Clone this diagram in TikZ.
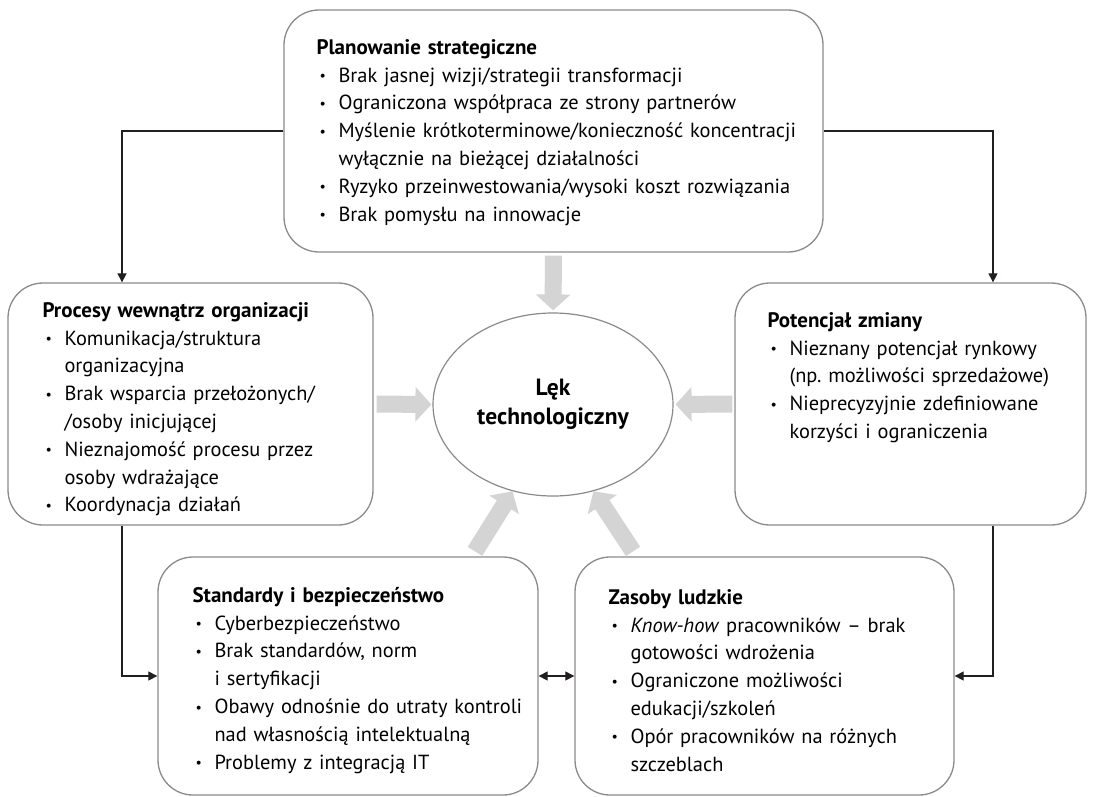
\documentclass[tikz,border=0pt]{standalone}
\usepackage{fontspec}
\setmainfont{PT Sans}
\usepackage{tikz}
\usetikzlibrary{arrows.meta,calc,positioning,shapes.geometric}
\definecolor{BoxGray}{RGB}{138,138,138}
\definecolor{ArrowGray}{RGB}{212,212,212}
\definecolor{LinkBlack}{RGB}{35,31,32}
\newcommand{\pkt}[1]{\par\hangindent=22pt\hangafter=1\noindent\hbox to 22pt{\hspace{3pt}{\fontsize{14}{14}\selectfont\raisebox{1.5pt}{\textbullet}}\hfil}#1\par}
\newcommand{\tyt}[1]{\noindent{\fontsize{21}{27.8}\selectfont\bfseries #1}\par}

\begin{document}
\begin{tikzpicture}[x=1pt,y=-1pt,
  box/.style={draw=BoxGray,line width=1.3pt,rounded corners=35pt,inner sep=0pt},
  txt/.style={anchor=base west,inner sep=0pt,text width=520pt,align=left,font=\fontsize{20.4}{27.8}\selectfont},
  link/.style={LinkBlack,line width=1.1pt,-{Triangle[length=9pt,width=9pt]}},
  bigarrow/.style={ArrowGray,line width=17pt,-{Triangle[length=16pt,width=34pt]}}]
\useasboundingbox (0,0) rectangle (1093,796);
% ramki
\node[box,minimum width=539pt,minimum height=242pt] (plan) at (553.5,131) {};
\node[box,minimum width=365pt,minimum height=242pt] (proc) at (190.5,404) {};
\node[box,minimum width=351pt,minimum height=242pt] (pot) at (910.5,404) {};
\node[box,minimum width=380pt,minimum height=238pt] (std) at (348,676) {};
\node[box,minimum width=379pt,minimum height=238pt] (zas) at (764.5,676) {};
\node[ellipse,draw=BoxGray,line width=1.2pt,minimum width=240pt,minimum height=183pt,inner sep=0pt,align=center,font=\fontsize{23.5}{28.5}\selectfont\bfseries] (lek) at (553,404.5) {Lęk\\technologiczny};
% teksty
\node[txt] (plan-t) at ($(plan.north west)+(33,45)$) {\tyt{Planowanie strategiczne}
\pkt{Brak jasnej wizji/strategii transformacji}
\pkt{Ograniczona współpraca ze strony partnerów}
\pkt{Myślenie krótkoterminowe/konieczność koncentracji\newline wyłącznie na bieżącej działalności}
\pkt{Ryzyko przeinwestowania/wysoki koszt rozwiązania}
\pkt{Brak pomysłu na innowacje}};
\node[txt] (proc-t) at ($(proc.north west)+(35,35)$) {\tyt{Procesy wewnątrz organizacji}
\pkt{Komunikacja/struktura\newline organizacyjna}
\pkt{Brak wsparcia przełożonych/\newline /osoby inicjującej}
\pkt{Nieznajomość procesu przez\newline osoby wdrażające}
\pkt{Koordynacja działań}};
\node[txt] (pot-t) at ($(pot.north west)+(33,45)$) {\tyt{Potencjał zmiany}
\pkt{Nieznany potencjał rynkowy\newline (np.\ możliwości sprzedażowe)}
\pkt{Nieprecyzyjnie zdefiniowane\newline korzyści i ograniczenia}};
\node[txt] (std-t) at ($(std.north west)+(35,46)$) {\tyt{Standardy i bezpieczeństwo}
\pkt{Cyberbezpieczeństwo}
\pkt{Brak standardów, norm\newline i sertyfikacji}
\pkt{Obawy odnośnie do utraty kontroli\newline nad własnością intelektualną}
\pkt{Problemy z integracją IT}};
\node[txt] (zas-t) at ($(zas.north west)+(34,48)$) {\tyt{Zasoby ludzkie}
\pkt{\textit{Know-how} pracowników – brak\newline gotowości wdrożenia}
\pkt{Ograniczone możliwości\newline edukacji/szkoleń}
\pkt{Opór pracowników na różnych\newline szczeblach}};
% strzalki szare
\draw[bigarrow,shorten <=3pt,shorten >=2pt] (plan.south) -- (lek.north);
\draw[bigarrow,shorten <=3pt,shorten >=1pt] (proc.east) -- (lek.west);
\draw[bigarrow,shorten <=2pt,shorten >=2pt] (pot.west) -- (lek.east);
\draw[bigarrow] ([xshift=127pt,yshift=5pt]std.north) -- (lek.245);
\draw[bigarrow] ([xshift=-131.5pt,yshift=5pt]zas.north) -- (lek.295);
% polaczenia
\draw[link] (plan.west) -| ([xshift=-68.5pt]proc.north);
\draw[link] (plan.east) -| ([xshift=82.5pt]pot.north);
\draw[link] ([xshift=-68.5pt]proc.south) |- (std.west);
\draw[link] ([xshift=82.5pt]pot.south) |- (zas.east);
\draw[link,{Triangle[length=9pt,width=9pt]}-{Triangle[length=9pt,width=9pt]}] (std.east) -- (zas.west);
\end{tikzpicture}
\end{document}
